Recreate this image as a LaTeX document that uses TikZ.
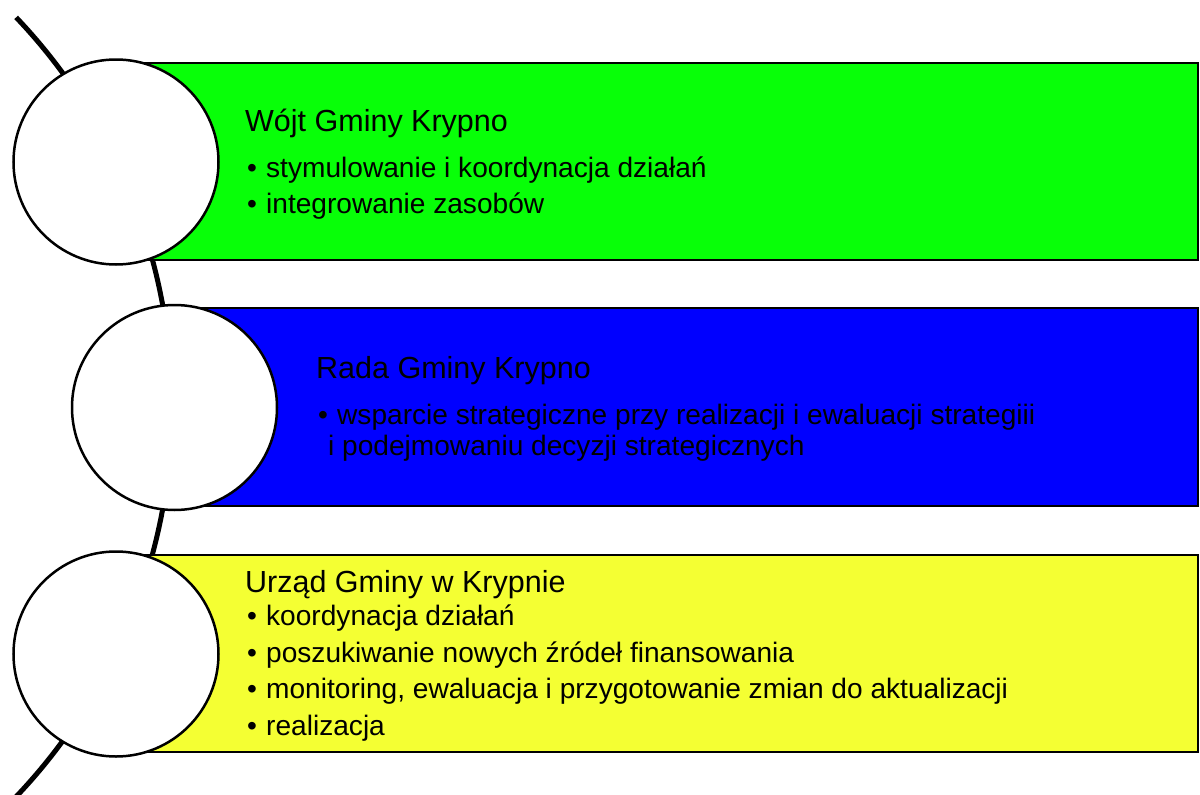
\documentclass[tikz,border=0pt]{standalone}
\usepackage{fontspec}
\setmainfont{Liberation Sans}
\definecolor{boxgreen}{RGB}{8,255,8}
\definecolor{boxblue}{RGB}{0,0,255}
\definecolor{boxyellow}{RGB}{244,255,51}
\tikzset{
  band/.style={draw=black, line width=2pt},
  disc/.style={circle, draw=black, fill=white, line width=2.5pt, minimum size=205pt, inner sep=0pt},
  ttl/.style={anchor=base west, inner sep=0pt, font=\fontsize{30.5}{30.5}\selectfont},
  itm/.style={anchor=base west, inner sep=0pt, font=\fontsize{28.1}{28.1}\selectfont},
}
\newcommand{\bul}{\makebox[19pt][l]{\textbullet}}
\begin{document}
\begin{tikzpicture}[x=1pt,y=-1pt]
\useasboundingbox (0,0) rectangle (1200,795);
% spine arc
\draw[line width=5pt] (-393,407) ++(-43.6:565) arc[start angle=-43.6, end angle=47, radius=565];
% bands
\filldraw[band, fill=boxgreen] (116,63) rectangle (1198,260);
\filldraw[band, fill=boxblue] (174,308) rectangle (1198,506);
\filldraw[band, fill=boxyellow] (116,555) rectangle (1198,752);
% discs
\node[disc] (c1) at (116,162) {};
\node[disc] (c2) at (174.5,407.5) {};
\node[disc] (c3) at (116,654) {};
% texts green
\node[ttl] (g0) at (245,131) {Wójt Gminy Krypno};
\node[itm] (g1) at (247,177) {\bul stymulowanie i koordynacja działań};
\node[itm] (g2) at (247,213) {\bul integrowanie zasobów};
% texts blue
\node[ttl] (b0) at (316,378) {Rada Gminy Krypno};
\node[itm] (b1) at (318,424) {\bul wsparcie strategiczne przy realizacji i ewaluacji strategiii};
\node[itm] (b2) at (328,455) {i podejmowaniu decyzji strategicznych};
% texts yellow
\node[ttl] (y0) at (245,592) {Urząd Gminy w Krypnie};
\node[itm] (y1) at (247,625) {\bul koordynacja działań};
\node[itm] (y2) at (247,662) {\bul poszukiwanie nowych źródeł finansowania};
\node[itm] (y3) at (247,698) {\bul monitoring, ewaluacja i przygotowanie zmian do aktualizacji};
\node[itm] (y4) at (247,735) {\bul realizacja};
\end{tikzpicture}
\end{document}
